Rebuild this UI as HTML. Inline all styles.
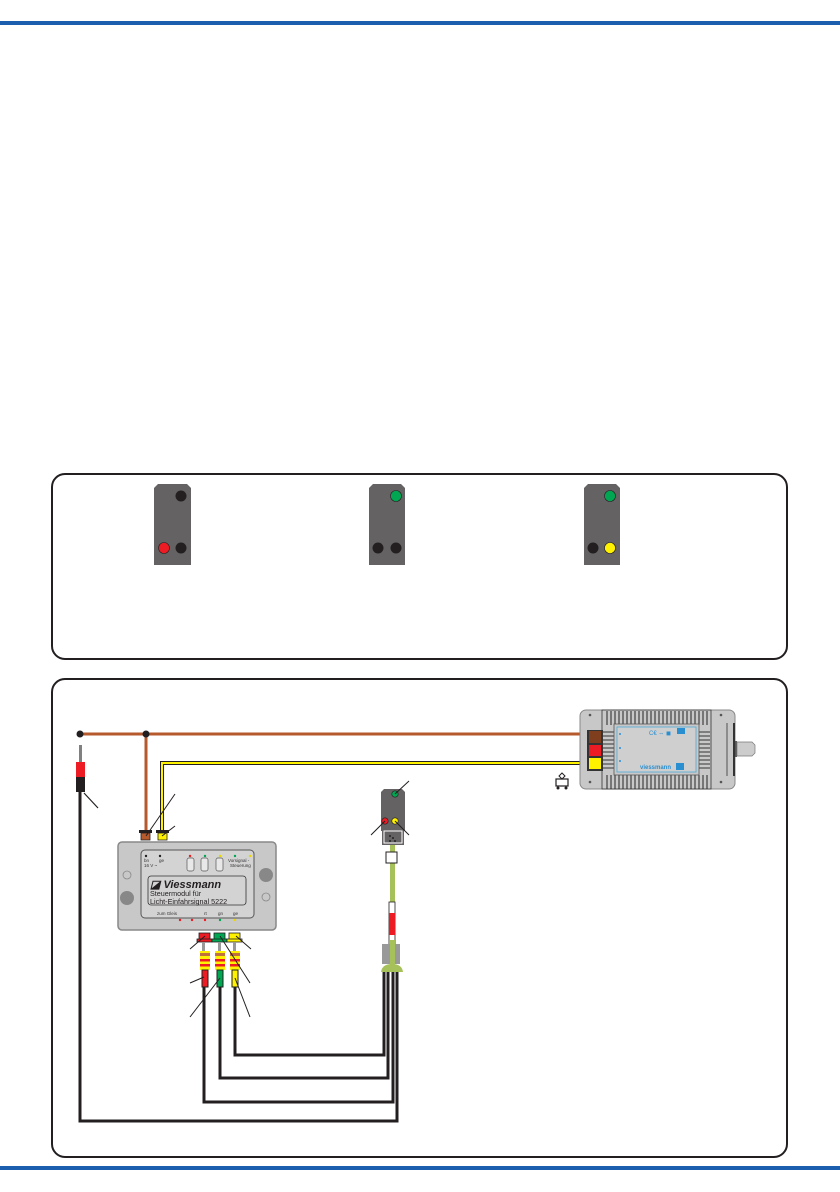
<!DOCTYPE html>
<html><head><meta charset="utf-8"><style>
html,body{margin:0;padding:0;background:#fff}
svg{display:block}
text{font-family:"Liberation Sans",sans-serif}
</style></head><body>
<svg width="840" height="1192" viewBox="0 0 840 1192" xmlns="http://www.w3.org/2000/svg">
<rect x="0" y="21" width="840" height="4" fill="#1b5fae"/>
<rect x="0" y="1166" width="840" height="4" fill="#1b5fae"/>
<rect x="52" y="474" width="735" height="185" rx="13" fill="none" stroke="#231f20" stroke-width="2"/>
<rect x="52" y="679" width="735" height="478" rx="13" fill="none" stroke="#231f20" stroke-width="2"/>
<!-- signals top -->
<g>
<path d="M154,488 l4,-4 h29 l4,4 v77 h-37z" fill="#646263"/>
<circle cx="181" cy="496" r="5.5" fill="#231f20"/><circle cx="164" cy="548" r="5.5" fill="#ed1c24" stroke="#231f20" stroke-width=".6"/><circle cx="181" cy="548" r="5.5" fill="#231f20"/>
<path d="M369,488 l4,-4 h28 l4,4 v77 h-36z" fill="#646263"/>
<circle cx="396" cy="496" r="5.5" fill="#00a651" stroke="#231f20" stroke-width=".6"/><circle cx="378" cy="548" r="5.5" fill="#231f20"/><circle cx="396" cy="548" r="5.5" fill="#231f20"/>
<path d="M584,488 l4,-4 h28 l4,4 v77 h-36z" fill="#646263"/>
<circle cx="610" cy="496" r="5.5" fill="#00a651" stroke="#231f20" stroke-width=".6"/><circle cx="593" cy="548" r="5.5" fill="#231f20"/><circle cx="610" cy="548" r="5.5" fill="#fff200" stroke="#231f20" stroke-width=".6"/>
</g>
<!-- black wires -->
<g fill="none" stroke="#231f20" stroke-width="3">
<path d="M80,790 V1121 H397 V970"/>
<path d="M204,985 V1102 H393 V970"/>
<path d="M220,985 V1078 H388 V970"/>
<path d="M235,985 V1055 H384 V970"/>
</g>
<!-- brown wires -->
<path d="M80,734 H587 M146,734 V830" stroke="#b65a2e" stroke-width="3" fill="none"/>
<circle cx="80" cy="734" r="3.5" fill="#231f20"/><circle cx="146" cy="734" r="3.5" fill="#231f20"/>
<!-- yellow wire -->
<path d="M162,830 V763 H587" stroke="#231f20" stroke-width="4" fill="none"/>
<path d="M162,830 V763 H587" stroke="#fff200" stroke-width="2" fill="none"/>
<!-- plug left -->
<rect x="79" y="745" width="3" height="18" fill="#808080"/>
<rect x="76" y="762" width="9" height="20" fill="#ed1c24"/><rect x="76" y="777" width="9" height="3" fill="#231f20"/>
<rect x="76" y="780" width="9" height="12" fill="#231f20"/>
<line x1="84" y1="793" x2="98" y2="808" stroke="#231f20" stroke-width="1.2"/>
<!-- module connectors top -->
<rect x="139" y="830" width="13" height="3" fill="#231f20"/><rect x="141" y="833" width="9" height="7" fill="#b65a2e" stroke="#231f20" stroke-width=".8"/>
<rect x="156" y="830" width="13" height="3" fill="#231f20"/><rect x="158" y="833" width="9" height="7" fill="#fff200" stroke="#231f20" stroke-width=".8"/>
<line x1="146" y1="836" x2="175" y2="794" stroke="#231f20" stroke-width="1"/>
<line x1="162" y1="836" x2="175" y2="826" stroke="#231f20" stroke-width="1"/>
<!-- module -->
<rect x="118" y="842" width="158" height="88" rx="4" fill="#c8c8c8" stroke="#888" stroke-width="1.5"/>
<rect x="141" y="850" width="113" height="68" rx="4" fill="#d3d3d3" stroke="#555" stroke-width="1"/>
<circle cx="127" cy="875" r="4" fill="none" stroke="#888" stroke-width=".8"/>
<circle cx="127" cy="898" r="7" fill="#888"/>
<circle cx="266" cy="875" r="7" fill="#888"/>
<circle cx="266" cy="897" r="4" fill="none" stroke="#888" stroke-width=".8"/>
<g font-size="4.5" fill="#333"><text x="144" y="862">bn</text><text x="159" y="862">ge</text><text x="144" y="867">16 V ~</text><text x="228" y="862">Vorsignal -</text><text x="230" y="867">Steuerung</text><text x="157" y="915">zum Gleis</text><text x="204" y="915">rt</text><text x="218" y="915">gn</text><text x="233" y="915">ge</text></g>
<g><circle cx="146" cy="856" r="1.2" fill="#231f20"/><circle cx="160" cy="856" r="1.2" fill="#231f20"/><circle cx="190" cy="856" r="1.2" fill="#ed1c24"/><circle cx="205" cy="856" r="1.2" fill="#00a651"/><circle cx="220" cy="856" r="1.2" fill="#e8d800"/><circle cx="235" cy="856" r="1.2" fill="#00a651"/><circle cx="250" cy="856" r="1.2" fill="#e8d800"/>
<circle cx="180" cy="920" r="1.2" fill="#ed1c24"/><circle cx="192" cy="920" r="1.2" fill="#ed1c24"/><circle cx="205" cy="920" r="1.2" fill="#ed1c24"/><circle cx="220" cy="920" r="1.2" fill="#00a651"/><circle cx="235" cy="920" r="1.2" fill="#e8d800"/></g>
<rect x="187" y="858" width="7" height="13" rx="2" fill="#e8e8e8" stroke="#555" stroke-width=".7"/>
<rect x="201" y="858" width="7" height="13" rx="2" fill="#e8e8e8" stroke="#555" stroke-width=".7"/>
<rect x="216" y="858" width="7" height="13" rx="2" fill="#e8e8e8" stroke="#555" stroke-width=".7"/>
<rect x="148" y="876" width="98" height="29" rx="3" fill="#d3d3d3" stroke="#333" stroke-width=".8"/>
<text x="150" y="888" font-size="11" font-weight="bold" font-style="italic" fill="#231f20">◪ Viessmann</text>
<text x="150" y="896" font-size="7.2" fill="#231f20">Steuermodul für</text>
<text x="150" y="904" font-size="7.2" fill="#231f20">Licht-Einfahrsignal 5222</text>
<!-- bottom connectors -->
<g stroke="#231f20" stroke-width=".8">
<rect x="199" y="933" width="11" height="7" fill="#ed1c24"/><rect x="197" y="939" width="15" height="3" fill="#ed1c24"/>
<rect x="214" y="933" width="11" height="7" fill="#00a651"/><rect x="212" y="939" width="15" height="3" fill="#00a651"/>
<rect x="229" y="933" width="11" height="7" fill="#fff200"/><rect x="227" y="939" width="15" height="3" fill="#fff200"/>
</g>
<g fill="#999"><rect x="202" y="942" width="3" height="10"/><rect x="218" y="942" width="3" height="10"/><rect x="233" y="942" width="3" height="10"/></g>
<g>
<rect x="200" y="951" width="10" height="19" fill="#fff200"/><rect x="200" y="953" width="10" height="3" fill="#c0703b"/><rect x="200" y="959" width="10" height="2.5" fill="#ed1c24"/><rect x="200" y="964" width="10" height="2.5" fill="#ed1c24"/>
<rect x="215" y="951" width="10" height="19" fill="#fff200"/><rect x="215" y="953" width="10" height="3" fill="#c0703b"/><rect x="215" y="959" width="10" height="2.5" fill="#ed1c24"/><rect x="215" y="964" width="10" height="2.5" fill="#ed1c24"/>
<rect x="230" y="951" width="10" height="19" fill="#fff200"/><rect x="230" y="953" width="10" height="3" fill="#c0703b"/><rect x="230" y="959" width="10" height="2.5" fill="#ed1c24"/><rect x="230" y="964" width="10" height="2.5" fill="#ed1c24"/>
</g>
<g stroke="#231f20" stroke-width="1">
<rect x="202" y="970" width="6" height="17" fill="#ed1c24"/><rect x="217" y="970" width="6" height="17" fill="#00a651"/><rect x="232" y="970" width="6" height="17" fill="#fff200"/>
</g>
<g stroke="#231f20" stroke-width="1">
<line x1="190" y1="949" x2="205" y2="936"/><line x1="251" y1="949" x2="236" y2="936"/>
<line x1="220" y1="936" x2="250" y2="983"/>
<line x1="190" y1="983" x2="204" y2="977"/>
<line x1="190" y1="1017" x2="220" y2="978"/>
<line x1="250" y1="1017" x2="235" y2="978"/>
</g>
<!-- signal in diagram -->
<path d="M381,792 l3,-3 h18 l3,3 v39 h-24z" fill="#646263"/>
<circle cx="395" cy="794" r="3.2" fill="#00a651" stroke="#231f20" stroke-width=".6"/>
<circle cx="385" cy="821" r="3.2" fill="#ed1c24" stroke="#231f20" stroke-width=".6"/>
<circle cx="395" cy="821" r="3.2" fill="#fff200" stroke="#231f20" stroke-width=".6"/>
<rect x="382" y="831" width="22" height="14" fill="#646263"/><rect x="384" y="831" width="18" height="12" fill="none" stroke="#fff" stroke-width="1"/>
<circle cx="390" cy="836" r=".9" fill="#111"/><circle cx="393" cy="838" r=".9" fill="#111"/><circle cx="390" cy="841" r=".9" fill="#111"/><circle cx="395" cy="841" r=".9" fill="#111"/>
<g stroke="#231f20" stroke-width="1"><line x1="395" y1="794" x2="409" y2="781"/><line x1="385" y1="821" x2="371" y2="835"/><line x1="395" y1="821" x2="409" y2="835"/></g>
<rect x="390" y="845" width="5" height="100" fill="#a7c15a"/>
<rect x="386" y="852" width="11" height="11" fill="#fff" stroke="#231f20" stroke-width="1"/>
<rect x="389" y="902" width="6" height="43" fill="#fff" stroke="#231f20" stroke-width=".8"/>
<rect x="389" y="913" width="6" height="22" fill="#ed1c24"/>
<rect x="382" y="944" width="18" height="20" fill="#999"/>
<rect x="390" y="940" width="5" height="25" fill="#a7c15a"/>
<path d="M381,972 q1,-8 11,-8 q10,0 11,8z" fill="#a7c15a"/>
<!-- transformer -->
<rect x="580" y="710" width="155" height="79" rx="6" fill="#c8c8c8" stroke="#888" stroke-width="1"/>
<rect x="602" y="710" width="109" height="79" fill="#c8c8c8" stroke="#333" stroke-width=".8"/>
<g stroke="#333" stroke-width="1.1">
<path d="M607,711v14M611,711v14M615,711v14M619,711v14M623,711v14M627,711v14M631,711v14M635,711v14M639,711v14M643,711v14M647,711v14M651,711v14M655,711v14M659,711v14M663,711v14M667,711v14M671,711v14M675,711v14M679,711v14M683,711v14M687,711v14M691,711v14M695,711v14M699,711v14M703,711v14M707,711v14"/>
<path d="M607,775v14M611,775v14M615,775v14M619,775v14M623,775v14M627,775v14M631,775v14M635,775v14M639,775v14M643,775v14M647,775v14M651,775v14M655,775v14M659,775v14M663,775v14M667,775v14M671,775v14M675,775v14M679,775v14M683,775v14M687,775v14M691,775v14M695,775v14M699,775v14M703,775v14M707,775v14"/>
<path d="M603,732h11M603,736h11M603,740h11M603,744h11M603,748h11M603,752h11M603,756h11M603,760h11M603,764h11M603,768h11M699,732h11M699,736h11M699,740h11M699,744h11M699,748h11M699,752h11M699,756h11M699,760h11M699,764h11M699,768h11"/>
</g>
<rect x="614" y="724" width="85" height="51" fill="#c8c8c8" stroke="#555" stroke-width=".8"/>
<rect x="617" y="727" width="79" height="45" fill="#cfcfcf" stroke="#4aa8d8" stroke-width=".8"/>
<rect x="677" y="728" width="8" height="6" fill="#2a8fd0"/>
<text x="649" y="735" font-size="6" fill="#2a8fd0">C€ ⇔ ◼</text>
<text x="640" y="769" font-size="6" fill="#2a8fd0" font-weight="bold">viessmann</text>
<rect x="676" y="763" width="8" height="7" fill="#2a8fd0"/>
<g fill="#2a8fd0"><circle cx="620" cy="734" r="1"/><circle cx="620" cy="748" r="1"/><circle cx="620" cy="761" r="1"/></g>
<g fill="#555"><circle cx="590" cy="715" r="1.3"/><circle cx="590" cy="782" r="1.3"/><circle cx="721" cy="715" r="1.3"/><circle cx="721" cy="782" r="1.3"/></g>
<line x1="727" y1="723" x2="727" y2="776" stroke="#333" stroke-width=".8"/>
<rect x="733" y="723" width="2" height="53" fill="#333"/>
<rect x="735" y="741" width="2" height="16" fill="#555"/>
<path d="M737,742 h15 l3,3 v8 l-3,3 h-15z" fill="#ccc" stroke="#777" stroke-width=".7"/>
<rect x="587" y="730" width="16" height="41" fill="#333"/>
<rect x="589" y="731" width="12" height="12" fill="#7f3f1e"/>
<rect x="589" y="745" width="12" height="11" fill="#ed1c24"/>
<rect x="589" y="758" width="12" height="11" fill="#fff200"/>
<!-- train symbol -->
<rect x="556" y="779" width="12" height="7" fill="none" stroke="#231f20" stroke-width="1.2"/>
<circle cx="558" cy="788" r="1.5" fill="#231f20"/><circle cx="566" cy="788" r="1.5" fill="#231f20"/>
<path d="M562,773 l3,3 -3,3 -3,-3z" fill="none" stroke="#231f20" stroke-width="1"/>
</svg>
</body></html>
